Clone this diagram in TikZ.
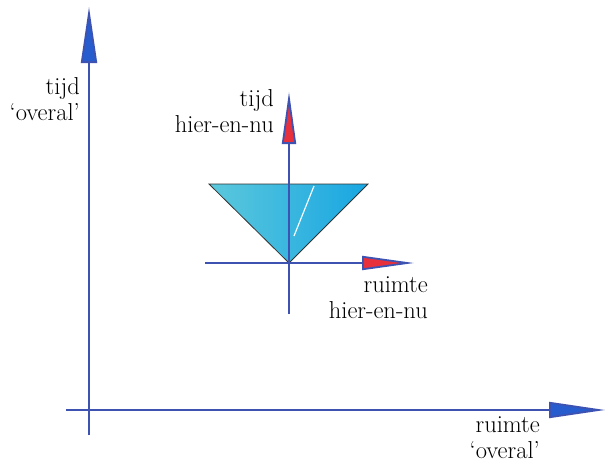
\documentclass[tikz,border=0pt]{standalone}
\usepackage{tikz}
\usetikzlibrary{arrows.meta}
\definecolor{axisblue}{RGB}{62,82,178}
\definecolor{tipblue}{RGB}{38,92,205}
\definecolor{tipred}{RGB}{232,48,60}
\definecolor{conelight}{RGB}{92,200,220}
\definecolor{conedark}{RGB}{24,166,226}

\begin{document}
\begin{tikzpicture}[x=1pt,y=-1pt,
    axis/.style={draw=axisblue,line width=1.8pt},
    bigtip/.style={-{Triangle[length=56pt,width=16pt,fill=tipblue]}},
    smalltip/.style={-{Triangle[length=52pt,width=14pt,fill=tipred]}},
    lbl/.style={align=right,anchor=base east,inner sep=0pt,font=\fontsize{24.5}{26}\selectfont}]
  \useasboundingbox (0,0) rectangle (606,466);
  % grote assen
  \coordinate (O) at (89,410);
  \coordinate (tbig) at (89,7);
  \coordinate (tlow) at (89,435);
  \coordinate (rbig) at (605,410);
  \coordinate (rlow) at (66,410);
  \draw[axis,bigtip] (tlow) -- (tbig);
  \draw[axis,bigtip] (rlow) -- (rbig);
  % kegel
  \coordinate (P) at (289,263);
  \coordinate (L) at (209,184);
  \coordinate (R) at (368,184);
  \shade[left color=conelight,right color=conedark] (L) -- (R) -- (P) -- cycle;
  \draw[white,line width=1.2pt] (314,186) -- (294,236);
  \draw[black!80,line width=0.8pt] (L) -- (R) -- (P) -- cycle;
  % kleine assen
  \coordinate (tsmall) at (289,92);
  \coordinate (tdown) at (289,314);
  \coordinate (rsmall) at (414,263);
  \coordinate (rleft) at (205,263);
  \draw[axis,smalltip] (tdown) -- (tsmall);
  \draw[axis,smalltip] (rleft) -- (rsmall);
  % teksten
  \node[lbl] (tover) at (80,120) {tijd\\`overal'};
  \node[lbl] (thier) at (274,132) {tijd\\hier-en-nu};
  \node[lbl] (rhier) at (428,318) {ruimte\\hier-en-nu};
  \node[lbl] (rover) at (540,458) {ruimte\\`overal'};
\end{tikzpicture}
\end{document}
